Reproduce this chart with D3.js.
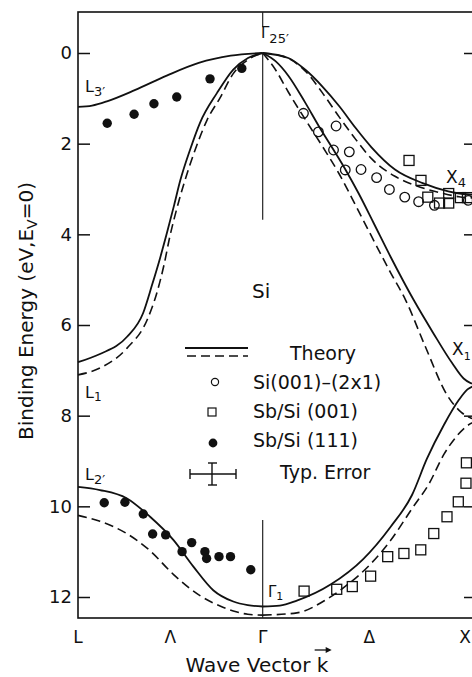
<!DOCTYPE html>
<html>
<head>
<meta charset="utf-8">
<script src="https://cdn.jsdelivr.net/npm/d3@7"></script>
<style>
body { margin: 0; background: #fff; }
svg text { font-family: "DejaVu Sans", sans-serif; fill: #111; }
</style>
</head>
<body>
<script>
// k: L = -0.866, Gamma = 0, X = 1 ; E = binding energy (eV)
const kLabels = ['L', 'Λ', 'Γ', 'Δ', 'X'];
const kLabelPos = [-0.866, -0.433, 0, 0.5, 1];
const yTicks = [0, 2, 4, 6, 8, 10, 12];

// theory, solid and dashed
const l3Solid = [[-0.866,1.19],[-0.8,1.16],[-0.727,1.06],[-0.6,0.82],[-0.45,0.5],[-0.3,0.22],[-0.15,0.06],[0,0]];
const l1Solid = [[-0.866,6.82],[-0.763,6.64],[-0.636,6.26],[-0.561,5.74],[-0.519,5.12],[-0.481,4.52],[-0.448,3.95],[-0.415,3.35],[-0.387,2.82],[-0.341,2.14],[-0.294,1.54],[-0.214,0.88],[-0.139,0.37],[-0.069,0.11],[0,0]];
const l1Dash = [[-0.866,7.1],[-0.763,6.95],[-0.636,6.51],[-0.542,5.89],[-0.495,5.27],[-0.463,4.68],[-0.435,4.04],[-0.402,3.42],[-0.364,2.8],[-0.317,2.14],[-0.261,1.48],[-0.2,0.99],[-0.139,0.46],[-0.069,0.15],[0,0]];
const l2Solid = [[-0.866,9.57],[-0.763,9.64],[-0.638,9.82],[-0.528,10.23],[-0.419,10.74],[-0.325,11.33],[-0.232,11.85],[-0.138,12.1],[-0.07,12.18],[0,12.21]];
const l2Dash = [[-0.866,10.2],[-0.763,10.33],[-0.638,10.6],[-0.528,10.98],[-0.419,11.5],[-0.294,11.97],[-0.2,12.2],[-0.138,12.31],[-0.07,12.38],[0,12.4]];
const d5Solid = [[0,0],[0.12,0.11],[0.2,0.37],[0.28,0.74],[0.36,1.18],[0.435,1.65],[0.51,2.08],[0.62,2.57],[0.75,2.87],[0.87,3.05],[0.94,3.11],[1,3.13]];
const d5Dash = [[0,0],[0.1,0.08],[0.2,0.4],[0.28,0.88],[0.36,1.42],[0.435,1.9],[0.51,2.33],[0.62,2.72],[0.72,2.93],[0.84,3.09],[0.92,3.17],[1,3.2]];
const d2Solid = [[0,0],[0.06,0.18],[0.12,0.5],[0.2,1.1],[0.264,1.62],[0.334,2.15],[0.389,2.58],[0.45,3.1],[0.52,3.75],[0.6,4.5],[0.708,5.45],[0.8,6.18],[0.888,6.84],[0.942,7.18],[0.975,7.28],[1,7.3]];
const d2Dash = [[0,0],[0.06,0.37],[0.12,0.86],[0.2,1.47],[0.28,2.06],[0.36,2.68],[0.44,3.4],[0.5,3.95],[0.6,4.85],[0.67,5.45],[0.76,6.45],[0.865,7.55],[0.93,7.92],[0.975,8.05],[1,8.08]];
const d1Solid = [[0,12.21],[0.08,12.19],[0.16,12.08],[0.32,11.72],[0.47,11.17],[0.6,10.45],[0.7,9.75],[0.77,8.95],[0.85,8.2],[0.92,7.65],[0.96,7.42],[1,7.33]];
const d1Dash = [[0,12.4],[0.16,12.35],[0.3,12.05],[0.4,11.72],[0.5,11.3],[0.6,10.75],[0.7,10.05],[0.78,9.5],[0.85,8.85],[0.91,8.45],[0.96,8.22],[1,8.12]];

// experiment
const si001 = [[0.191,1.33],[0.261,1.74],[0.344,1.61],[0.332,2.14],[0.406,2.18],[0.387,2.58],[0.461,2.57],[0.534,2.75],[0.594,3.01],[0.666,3.18],[0.731,3.28],[0.805,3.36],[0.964,3.25]];
const sb001 = [[0.686,2.37],[0.742,2.81],[0.774,3.18],[0.829,3.31],[0.872,3.1],[0.872,3.31],[0.927,3.19],[0.96,3.19],
  [0.194,11.87],[0.347,11.83],[0.42,11.77],[0.506,11.54],[0.586,11.11],[0.662,11.04],[0.741,10.96],[0.802,10.6],[0.864,10.23],[0.917,9.9],[0.953,9.49],[0.955,9.04]];
const sb111 = [[-0.729,1.55],[-0.603,1.35],[-0.51,1.12],[-0.403,0.97],[-0.247,0.57],[-0.098,0.34],
  [-0.743,9.92],[-0.646,9.91],[-0.56,10.17],[-0.516,10.61],[-0.455,10.63],[-0.378,11.0],[-0.333,10.8],[-0.271,11.0],[-0.263,11.15],[-0.205,11.11],[-0.151,11.11],[-0.056,11.4]];

const width = 472, height = 677;
const plotLeft = 78, plotRight = 476, plotTop = 12, plotBottom = 618;

const svg = d3.select('body').append('svg')
  .attr('width', width)
  .attr('height', height);

const x = d3.scaleLinear().domain([-0.866, 1]).range([plotLeft, plotRight]);
const y = d3.scaleLinear().domain([0, 12]).range([53, 597]);

// frame
svg.append('rect')
  .attr('x', plotLeft).attr('y', plotTop)
  .attr('width', plotRight - plotLeft).attr('height', plotBottom - plotTop)
  .attr('fill', 'none').attr('stroke', '#111').attr('stroke-width', 1.6);

const yAxis = svg.append('g')
  .attr('transform', `translate(${plotLeft},0)`)
  .call(d3.axisLeft(y).tickValues(yTicks).tickSizeInner(-12).tickSizeOuter(0).tickPadding(6));
yAxis.select('.domain').remove();
yAxis.selectAll('line').attr('stroke', '#111').attr('stroke-width', 1.5);
yAxis.selectAll('text').attr('font-size', 18).attr('fill', '#111')
  .style('font-family', '"DejaVu Sans", sans-serif');

const yAxisR = svg.append('g')
  .attr('transform', `translate(${plotRight},0)`)
  .call(d3.axisRight(y).tickValues(yTicks).tickSizeInner(-12).tickSizeOuter(0).tickFormat(''));
yAxisR.select('.domain').remove();
yAxisR.selectAll('line').attr('stroke', '#111').attr('stroke-width', 1.5);

// Gamma line, broken for the label
const gammaSegs = [[-0.9, -0.57], [0, 3.68], [10.3, 12.46]];
svg.append('g').selectAll('line')
  .data(gammaSegs).enter().append('line')
  .attr('x1', x(0)).attr('x2', x(0))
  .attr('y1', d => y(d[0])).attr('y2', d => y(d[1]))
  .attr('stroke', '#111').attr('stroke-width', 1.1);

const line = d3.line()
  .x(d => x(d[0]))
  .y(d => y(d[1]))
  .curve(d3.curveMonotoneX);

const solids = [l3Solid, l1Solid, l2Solid, d5Solid, d2Solid, d1Solid];
const dashes = [l1Dash, l2Dash, d5Dash, d2Dash, d1Dash];

svg.append('g').selectAll('path')
  .data(dashes).enter().append('path')
  .attr('d', line)
  .attr('fill', 'none').attr('stroke', '#111')
  .attr('stroke-width', 1.6).attr('stroke-dasharray', '9,5');

svg.append('g').selectAll('path')
  .data(solids).enter().append('path')
  .attr('d', line)
  .attr('fill', 'none').attr('stroke', '#111')
  .attr('stroke-width', 1.8);

// markers
svg.append('g').selectAll('circle')
  .data(si001).enter().append('circle')
  .attr('cx', d => x(d[0])).attr('cy', d => y(d[1])).attr('r', 4.8)
  .attr('fill', 'none').attr('stroke', '#111').attr('stroke-width', 1.3);

svg.append('g').selectAll('rect')
  .data(sb001).enter().append('rect')
  .attr('x', d => x(d[0]) - 5).attr('y', d => y(d[1]) - 5)
  .attr('width', 10).attr('height', 10)
  .attr('fill', 'none').attr('stroke', '#111').attr('stroke-width', 1.3);

svg.append('g').selectAll('circle')
  .data(sb111).enter().append('circle')
  .attr('cx', d => x(d[0])).attr('cy', d => y(d[1])).attr('r', 4.7)
  .attr('fill', '#111');

// point labels: main letter + subscript
function symLabel(px, py, main, sub, size, subSize, dy) {
  const t = svg.append('text').attr('x', px).attr('y', py).attr('font-size', size);
  t.append('tspan').text(main);
  t.append('tspan').attr('font-size', subSize).attr('dy', dy).text(sub);
}
symLabel(261, 38, 'Γ', '25′', 15, 13, 5);
symLabel(85, 92, 'L', '3′', 16, 13, 4);
symLabel(85, 398, 'L', '1', 16, 12, 3);
symLabel(85, 480, 'L', '2′', 16, 13, 4);
symLabel(446, 183, 'X', '4', 17, 13, 4);
symLabel(452, 355, 'X', '1', 17, 11, 5);
symLabel(268, 597, 'Γ', '1', 15, 11, 3);

svg.append('text').attr('x', 252).attr('y', 298).attr('font-size', 20).text('Si');

// legend
svg.append('line').attr('x1', 185).attr('x2', 248).attr('y1', 348).attr('y2', 348)
  .attr('stroke', '#111').attr('stroke-width', 1.8);
svg.append('line').attr('x1', 187).attr('x2', 248).attr('y1', 356).attr('y2', 356)
  .attr('stroke', '#111').attr('stroke-width', 1.6).attr('stroke-dasharray', '9,5');
svg.append('text').attr('x', 290).attr('y', 360).attr('font-size', 19).text('Theory');

svg.append('circle').attr('cx', 215).attr('cy', 382).attr('r', 3.6)
  .attr('fill', 'none').attr('stroke', '#111').attr('stroke-width', 1.2);
svg.append('text').attr('x', 253).attr('y', 389).attr('font-size', 19).text('Si(001)–(2x1)');

svg.append('rect').attr('x', 208).attr('y', 408).attr('width', 8).attr('height', 8)
  .attr('fill', 'none').attr('stroke', '#111').attr('stroke-width', 1.2);
svg.append('text').attr('x', 253).attr('y', 418).attr('font-size', 19).text('Sb/Si (001)');

svg.append('circle').attr('cx', 213).attr('cy', 443).attr('r', 4.4).attr('fill', '#111');
svg.append('text').attr('x', 253).attr('y', 447).attr('font-size', 19).text('Sb/Si (111)');

const eb = svg.append('g').attr('stroke', '#111').attr('stroke-width', 1.4);
eb.append('line').attr('x1', 190).attr('x2', 236).attr('y1', 474).attr('y2', 474);
eb.append('line').attr('x1', 190).attr('x2', 190).attr('y1', 469).attr('y2', 479);
eb.append('line').attr('x1', 236).attr('x2', 236).attr('y1', 469).attr('y2', 479);
eb.append('line').attr('x1', 212).attr('x2', 212).attr('y1', 463).attr('y2', 485);
eb.append('line').attr('x1', 208).attr('x2', 217).attr('y1', 463).attr('y2', 463);
eb.append('line').attr('x1', 208).attr('x2', 217).attr('y1', 485).attr('y2', 485);
svg.append('text').attr('x', 280).attr('y', 479).attr('font-size', 19).text('Typ. Error');

// x labels (the X label sits at the window edge, kept inside)
svg.append('g').selectAll('text')
  .data(kLabels).enter().append('text')
  .attr('x', (d, i) => Math.min(x(kLabelPos[i]), width - 7))
  .attr('y', 643)
  .attr('text-anchor', 'middle')
  .attr('font-size', 17)
  .text(d => d);

const xt = svg.append('text')
  .attr('x', 257).attr('y', 672)
  .attr('text-anchor', 'middle')
  .attr('font-size', 20)
  .text('Wave Vector k');
const full = xt.node().getComputedTextLength();
const kw = xt.node().getSubStringLength(12, 1);
const kx = 257 + full / 2 - kw / 2;
svg.append('line').attr('x1', kx - 8).attr('x2', kx + 7).attr('y1', 650).attr('y2', 650)
  .attr('stroke', '#111').attr('stroke-width', 1.3);
svg.append('path')
  .attr('d', `M${kx + 9},650 L${kx + 3},647 L${kx + 3},653 Z`)
  .attr('fill', '#111');

// y label
const yl = svg.append('text')
  .attr('transform', 'translate(33,311) rotate(-90)')
  .attr('text-anchor', 'middle')
  .attr('font-size', 20);
yl.append('tspan').text('Binding Energy (eV,E');
yl.append('tspan').attr('font-size', 14).attr('dy', 4).text('V');
yl.append('tspan').attr('dy', -4).text('=0)');
</script>
</body>
</html>
